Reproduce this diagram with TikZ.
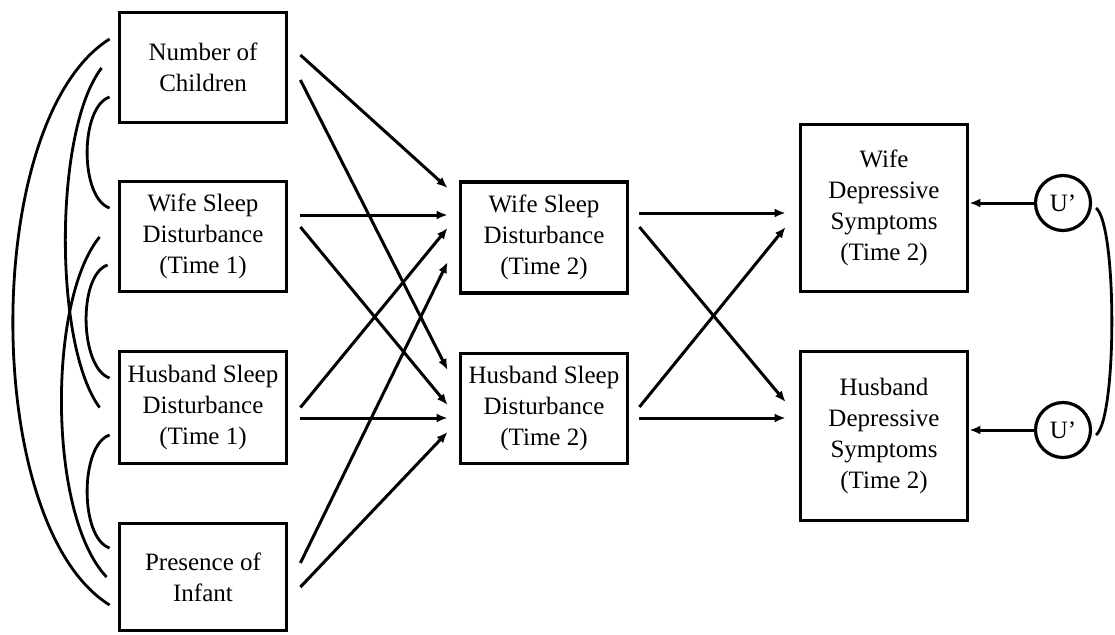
\documentclass[tikz,border=0pt]{standalone}
\usepackage{fontspec}
\setmainfont{Liberation Serif}
\usetikzlibrary{arrows.meta,calc}
\begin{document}
\begin{tikzpicture}[x=1pt,y=-1pt,
  box/.style={draw, line width=3.8pt, minimum width=167pt, align=center, inner sep=0pt,
    font=\fontsize{25}{31}\selectfont},
  latent/.style={draw, circle, line width=3.2pt, minimum size=55pt, inner sep=0pt,
    font=\fontsize{25}{31}\selectfont},
  path/.style={line width=3pt, -{Latex[length=11pt,width=9pt]}},
  cov/.style={line width=2.8pt}]
\useasboundingbox (0,0) rectangle (1115,634);

% exogenous (Time 1)
\node[box, minimum height=110pt] (noc) at (203,67.5) {Number of\\Children};
\node[box, minimum height=110pt] (w1) at (203,236.5) {Wife Sleep\\Disturbance\\(Time 1)};
\node[box, minimum height=112pt] (h1) at (203,407.5) {Husband Sleep\\Disturbance\\(Time 1)};
\node[box, minimum height=107pt] (pi) at (203,577) {Presence of\\Infant};

% mediators (Time 2)
\node[box, minimum height=111pt] (w2) at (544,237.5) {Wife Sleep\\Disturbance\\(Time 2)};
\node[box, minimum height=110pt] (h2) at (544,408.5) {Husband Sleep\\Disturbance\\(Time 2)};

% outcomes
\node[box, minimum height=167pt] (wd) at (884,208) {Wife\\Depressive\\Symptoms\\(Time 2)};
\node[box, minimum height=169pt] (hd) at (884,436) {Husband\\Depressive\\Symptoms\\(Time 2)};

% disturbances
\node[latent] (u1) at (1063,203) {U’};
\node[latent] (u2) at (1063,430) {U’};

% paths into Wife Sleep T2
\draw[path] ($(noc.east)+(12,-12.5)$) -- ($(w2.west)+(-11,-49.5)$);
\draw[path] ($(w1.east)+(12,-21.5)$) -- ($(w2.west)+(-11,-22.5)$);
\draw[path] ($(h1.east)+(12,0)$) -- ($(w2.west)+(-11,-9.5)$);
\draw[path] ($(pi.east)+(12,-14)$) -- ($(w2.west)+(-11,24.5)$);
% paths into Husband Sleep T2
\draw[path] ($(noc.east)+(12,12.5)$) -- ($(h2.west)+(-11,-38.5)$);
\draw[path] ($(w1.east)+(12,-9.5)$) -- ($(h2.west)+(-11,-3.5)$);
\draw[path] ($(h1.east)+(12,10.5)$) -- ($(h2.west)+(-11,9.5)$);
\draw[path] ($(pi.east)+(12,10)$) -- ($(h2.west)+(-11,23.5)$);

% paths into depressive symptoms
\draw[path] ($(w2.east)+(10,-24.5)$) -- ($(wd.west)+(-13,5)$);
\draw[path] ($(w2.east)+(10,-10.5)$) -- ($(hd.west)+(-13,-34)$);
\draw[path] ($(h2.east)+(10,-1.5)$) -- ($(wd.west)+(-13,19)$);
\draw[path] ($(h2.east)+(10,9.5)$) -- ($(hd.west)+(-13,-18)$);

% disturbance paths
\draw[path] (u1.west) -- (u1.west -| wd.east);
\draw[path] (u2.west) -- (u2.west -| hd.east);

% covariances among exogenous variables
\draw[cov] ($(noc.west)+(-8,-28.5)$) .. controls +(-129,81) and +(-129,-80) .. ($(pi.west)+(-8,28)$);
\draw[cov] ($(noc.west)+(-16,0.5)$) .. controls +(-48,62) and +(-46,-62) .. ($(h1.west)+(-18,0)$);
\draw[cov] ($(noc.west)+(-8,29.5)$) .. controls +(-30,10) and +(-30,-10) .. ($(w1.west)+(-8,-28.5)$);
\draw[cov] ($(w1.west)+(-18,0.5)$) .. controls +(-52,63) and +(-59,-62) .. ($(pi.west)+(-11,0)$);
\draw[cov] ($(w1.west)+(-10,28.5)$) .. controls +(-30,10) and +(-30,-10) .. ($(h1.west)+(-8,-29.5)$);
\draw[cov] ($(h1.west)+(-8,27.5)$) .. controls +(-30,10) and +(-30,-10) .. ($(pi.west)+(-8,-29)$);

% covariance among disturbances
\draw[cov] ($(u1.east)+(4,5)$) .. controls +(21,17) and +(21,-17) .. ($(u2.east)+(4,5)$);
\end{tikzpicture}
\end{document}
